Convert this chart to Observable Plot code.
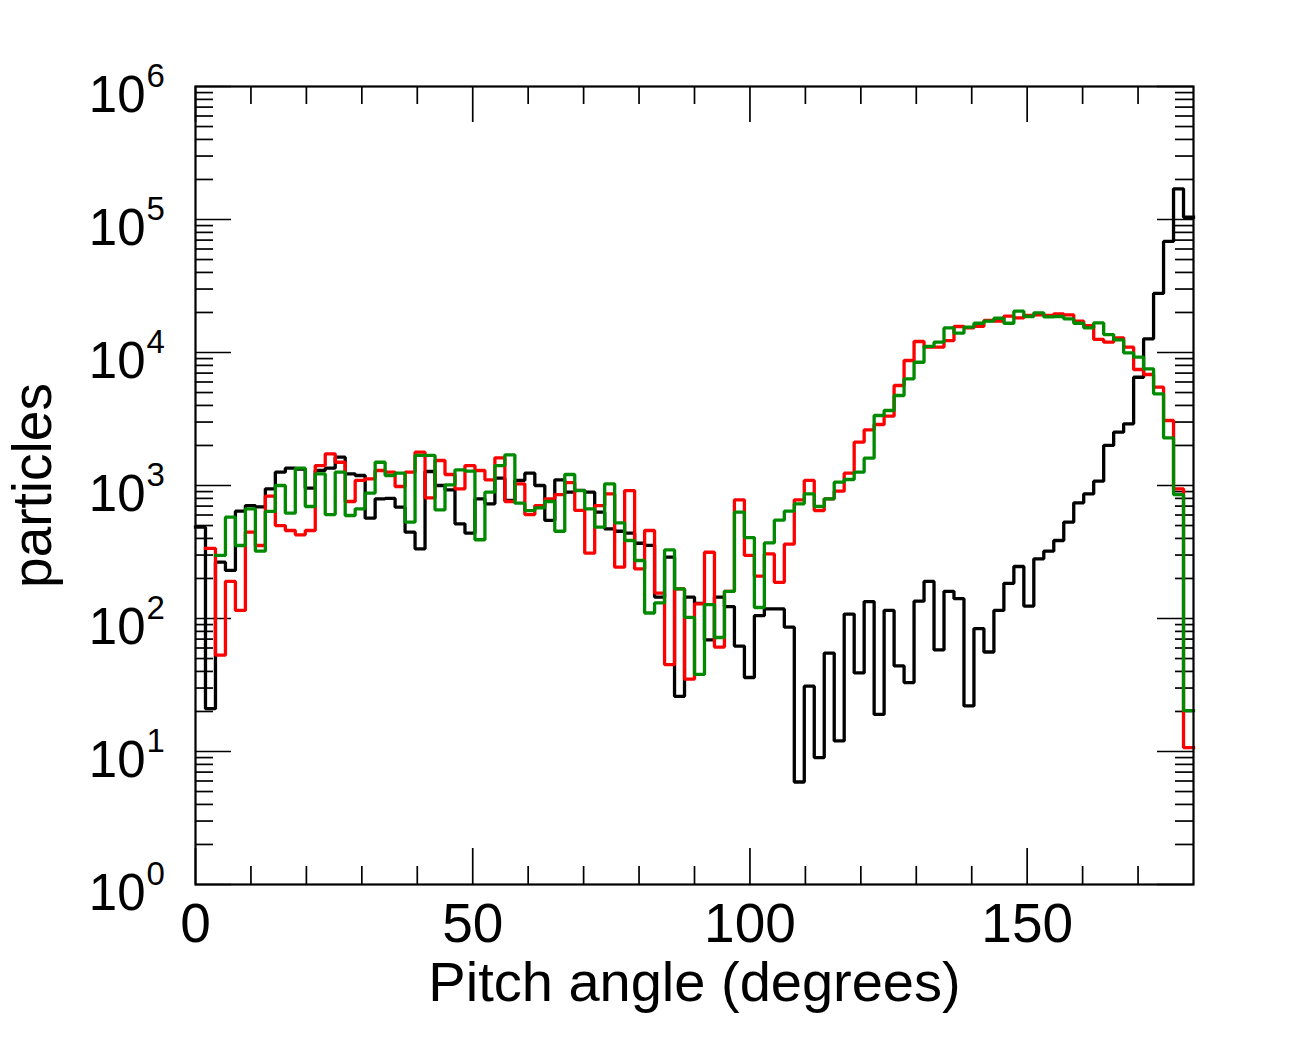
<!DOCTYPE html>
<html>
<head>
<meta charset="utf-8">
<script src="https://cdn.jsdelivr.net/npm/d3@7"></script>
<script src="https://cdn.jsdelivr.net/npm/@observablehq/plot@0.6"></script>
<style>
  html, body { margin: 0; padding: 0; background: #fff; overflow: hidden; }
  #chart svg { display: block; }
</style>
</head>
<body>
<div id="chart"></div>
<script>
// ---- data: 100 bins of 1.8 degrees from 0 to 180 ----
const binWidth = 1.8;

const black = [
  486, 21, 265, 230, 641, 707, 690, 944, 1259, 1349,
  1330, 955, 1297, 1349, 1633, 1224, 1189, 568, 794, 800,
  687, 446, 334, 1274, 1000, 927, 515, 438, 794, 728,
  1135, 771, 1091, 1238, 1000, 546, 1104, 891, 920, 891,
  630, 472, 453, 438, 368, 355, 145, 289, 26, 145,
  130, 69, 145, 123, 62, 36, 105, 118, 118, 86,
  5.9, 31, 9.0, 55, 12, 108, 39, 134, 19, 115,
  44, 33, 135, 190, 58, 160, 141, 22, 84, 56,
  115, 184, 246, 124, 281, 321, 386, 530, 741, 865,
  1077, 2000, 2518, 2911, 6516, 12670, 27790, 68400, 170000, 104000
];

const red = [
  null, 337, 53, 190, 115, 446, 354, 831, 500, 459,
  426, 459, 1413, 1730, 1496, 758, 1091, 1122, 1297, 1259,
  983, 1259, 1780, 808, 1541, 1210, 944, 1413, 1297, 1104,
  1614, 758, 1030, 605, 707, 794, 855, 1050, 650, 310,
  707, 865, 243, 916, 236, 459, 155, 45, 167, 35,
  129, 315, 61, 160, 780, 298, 208, 306, 187, 362,
  780, 1091, 648, 794, 906, 1238, 2117, 2620, 2875, 3320,
  5650, 8710, 12100, 10960, 10960, 12300, 15680, 15300, 15700, 17400,
  17200, 18750, 18200, 18970, 19200, 18970, 19540, 19200, 17200, 15950,
  12530, 11950, 12890, 10960, 7450, 6830, 5490, 3080, 944, 10.7
];

const green = [
  null, null, 298, 578, 354, 668, 321, 638, 1000, 619,
  1349, 695, 1224, 605, 1259, 595, 668, 875, 1496, 1189,
  1238, 530, 1682, 1682, 656, 1012, 1312, 1281, 391, 891,
  1413, 1702, 736, 648, 679, 758, 453, 1210, 916, 668,
  486, 1030, 524, 386, 273, 110, 131, 328, 167, 102,
  38, 127, 72, 160, 630, 406, 121, 370, 549, 641,
  728, 865, 695, 794, 1059, 1109, 1259, 1605, 3360, 3664,
  4750, 6340, 8450, 11100, 11950, 15300, 13970, 15500, 16600, 17200,
  18100, 16600, 20450, 18650, 19870, 18500, 18650, 17900, 16600, 15330,
  16700, 13650, 12440, 9950, 9220, 7540, 4890, 2280, 855, 20.3
];

const xMajor = [0, 50, 100, 150];
const xMinor = [10, 20, 30, 40, 60, 70, 80, 90, 110, 120, 130, 140, 160, 170];
const yDecades = [0, 1, 2, 3, 4, 5, 6];
const yMinorMultipliers = [2, 3, 4, 5, 6, 7, 8, 9];

const xTitle = "Pitch angle (degrees)";
const yTitle = "particles";

// ---- build step series (bin left edges + closing right edge) ----
function steps(values) {
  const pts = values.map((v, i) => ({x: i * binWidth, y: v}));
  pts.push({x: values.length * binWidth, y: values[values.length - 1]});
  return pts;
}
const yMajor = yDecades.map(d => Math.pow(10, d));
const yMinor = [];
for (const d of yDecades.slice(0, -1)) for (const m of yMinorMultipliers) yMinor.push(m * Math.pow(10, d));

// ---- layout ----
const W = 1305, H = 1039, ML = 195, MR = 112, MT = 86, MB = 155;
const IW = W - ML - MR, IH = H - MT - MB;
const majLen = 36, minLen = 18;
const font = "'Liberation Sans', Arial, Helvetica, sans-serif";
const lineStyle = {curve: "step-after", strokeWidth: 3.3, strokeLinejoin: "miter", strokeLinecap: "square"};

const chart = Plot.plot({
  width: W,
  height: H,
  marginLeft: ML,
  marginRight: MR,
  marginTop: MT,
  marginBottom: MB,
  style: {fontFamily: font, background: "white", color: "black"},
  x: {domain: [0, 180], axis: null},
  y: {type: "log", domain: [1, 1e6], axis: null},
  marks: [
    // minor / major ticks, mirrored on all sides, pointing inward
    Plot.tickX(xMinor, {x: d => d, insetTop: IH - minLen, strokeWidth: 1.7}),
    Plot.tickX(xMinor, {x: d => d, insetBottom: IH - minLen, strokeWidth: 1.7}),
    Plot.tickX(xMajor, {x: d => d, insetTop: IH - majLen, strokeWidth: 1.7}),
    Plot.tickX(xMajor, {x: d => d, insetBottom: IH - majLen, strokeWidth: 1.7}),
    Plot.tickY(yMinor, {y: d => d, insetRight: IW - minLen, strokeWidth: 1.7}),
    Plot.tickY(yMinor, {y: d => d, insetLeft: IW - minLen, strokeWidth: 1.7}),
    Plot.tickY(yMajor, {y: d => d, insetRight: IW - majLen, strokeWidth: 1.7}),
    Plot.tickY(yMajor, {y: d => d, insetLeft: IW - majLen, strokeWidth: 1.7}),

    // histograms
    Plot.line(steps(black), {x: "x", y: "y", stroke: "#000000", ...lineStyle}),
    Plot.line(steps(red), {x: "x", y: "y", stroke: "#ff0000", ...lineStyle}),
    Plot.line(steps(green), {x: "x", y: "y", stroke: "#008a00", ...lineStyle}),

    Plot.frame({stroke: "black", strokeWidth: 2.2}),

    // x tick labels
    Plot.text(xMajor, {x: d => d, frameAnchor: "bottom", dy: 57, lineAnchor: "bottom",
      textAnchor: "middle", text: d => String(d), fontSize: 55, fill: "black"}),
    // y tick labels: 10 with superscript exponent
    Plot.text(yDecades, {y: d => Math.pow(10, d), frameAnchor: "left", dx: -50, dy: 25,
      textAnchor: "end", lineAnchor: "bottom", text: () => "10", fontSize: 51, fill: "black"}),
    Plot.text(yDecades, {y: d => Math.pow(10, d), frameAnchor: "left", dx: -49, dy: 0,
      textAnchor: "start", lineAnchor: "bottom", text: d => String(d), fontSize: 33, fill: "black"}),

    // axis titles
    Plot.text([xTitle], {frameAnchor: "bottom", dy: 116, lineAnchor: "bottom",
      textAnchor: "middle", text: d => d, fontSize: 56, fill: "black"}),
    Plot.text([yTitle], {frameAnchor: "left", dx: 50 - ML, rotate: -90, lineAnchor: "bottom",
      textAnchor: "middle", text: d => d, fontSize: 55, fill: "black"})
  ]
});

document.getElementById("chart").appendChild(chart);
</script>
</body>
</html>
